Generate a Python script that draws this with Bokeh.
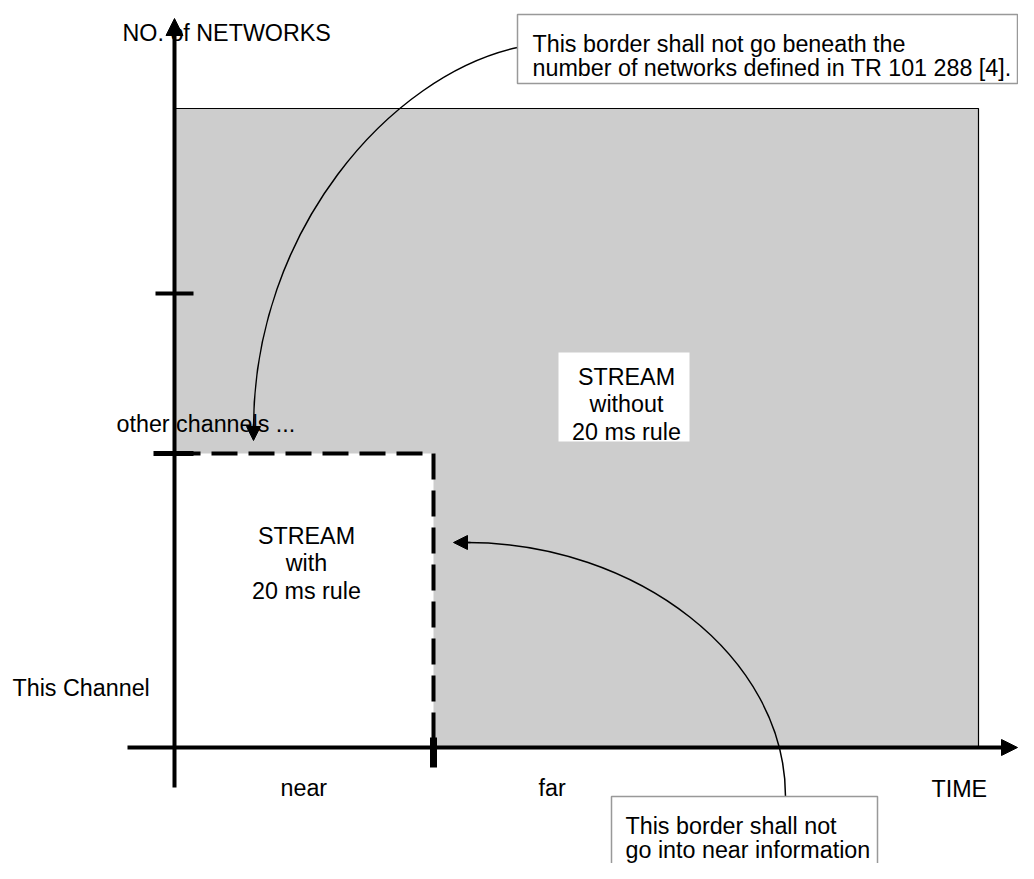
from bokeh.plotting import figure
from bokeh.models import Range1d, Arrow, NormalHead
from bokeh.core.properties import value
from bokeh.embed import file_html
from bokeh.resources import INLINE

# ---- diagram data (picture-pixel units: x to the right, y downward) ----
axis_origin_x = 174          # TIME = 0 / NO. of NETWORKS axis
axis_origin_y = 747          # NO. of NETWORKS = 0 / TIME axis
near_far_boundary = 433      # end of "near" time region
this_channel_top = 453       # top of "this channel" band
network_ticks = [293, 453]   # tick positions on the networks axis
stream_right = 978           # right edge of the STREAM area
stream_top = 108             # top edge of the STREAM area

plain_labels = ["NO. of NETWORKS", "other channels ...", "This Channel", "near", "far", "TIME"]
plain_label_x = [122, 116, 12, 280, 538, 931]
plain_label_y = [32, 423, 687, 787, 787, 788]

with_rule_lines = ["STREAM", "with", "20 ms rule"]
with_rule_x = [306, 306, 306]
with_rule_y = [535, 562, 590]

without_rule_lines = ["STREAM", "without", "20 ms rule"]
without_rule_x = [626, 626, 626]
without_rule_y = [376, 403, 431]

note_top_lines = ["This border shall not go beneath the",
                  "number of networks defined in TR 101 288 [4]."]
note_top_x = [532, 532]
note_top_y = [43, 67]

note_bottom_lines = ["This border shall not", "go into near information"]
note_bottom_x = [625, 625]
note_bottom_y = [825, 849]

FONT = value("Liberation Sans")
FS = "23.3px"
W, H = 1018, 863

p = figure(width=W, height=H, x_range=Range1d(0, W), y_range=Range1d(H, 0),
           x_axis_location=None, y_axis_location=None, toolbar_location=None,
           output_backend="svg", min_border=0)
p.min_border_left = p.min_border_right = p.min_border_top = p.min_border_bottom = 0
p.grid.visible = False
p.outline_line_color = None
p.background_fill_color = "white"
p.border_fill_color = "white"

# STREAM area (grey) and "with 20 ms rule" area (white)
p.quad(left=[axis_origin_x], right=[stream_right], top=[stream_top], bottom=[axis_origin_y],
       fill_color="#cdcdcd", line_color="black", line_width=1.2)
p.quad(left=[axis_origin_x], right=[near_far_boundary], top=[this_channel_top], bottom=[axis_origin_y],
       fill_color="white", line_color=None)
# white label background for "without" text
p.quad(left=[558], right=[689], top=[352], bottom=[441], fill_color="white", line_color=None)

# dashed border of the 20 ms rule area
p.line(x=[axis_origin_x, near_far_boundary, near_far_boundary],
       y=[this_channel_top, this_channel_top, axis_origin_y],
       line_color="black", line_width=4, line_dash="26 11")

# plain labels
p.text(x=plain_label_x, y=plain_label_y, text=plain_labels, text_font=FONT, text_font_size=FS,
       text_baseline="alphabetic", text_align="left", text_color="black")
p.text(x=with_rule_x, y=with_rule_y, text=with_rule_lines, text_font=FONT, text_font_size=FS,
       text_baseline="alphabetic", text_align="center", text_color="black")
p.text(x=without_rule_x, y=without_rule_y, text=without_rule_lines, text_font=FONT, text_font_size=FS,
       text_baseline="alphabetic", text_align="center", text_color="black")

# axes with arrow heads
p.add_layout(Arrow(x_start=axis_origin_x, y_start=787, x_end=axis_origin_x, y_end=18,
                   line_width=4, line_color="black",
                   end=NormalHead(size=17, fill_color="black", line_color="black", line_width=1)))
p.add_layout(Arrow(x_start=127, y_start=axis_origin_y, x_end=W - 1, y_end=axis_origin_y,
                   line_width=4, line_color="black",
                   end=NormalHead(size=16, fill_color="black", line_color="black", line_width=1)))

# ticks
p.segment(x0=[155, 153], y0=network_ticks, x1=[193, 193], y1=network_ticks,
          line_color="black", line_width=[4, 5])
p.segment(x0=[near_far_boundary], y0=[737], x1=[near_far_boundary], y1=[767],
          line_color="black", line_width=7)

# curved leader arrows
p.bezier(x0=[517, 785], y0=[47, 796], x1=[253, 466], y1=[428, 542],
         cx0=[390, 785], cy0=[75, 656], cx1=[253, 636], cy1=[230, 542],
         line_color="black", line_width=1.5)
p.add_layout(Arrow(x_start=253, y_start=424, x_end=253, y_end=440, line_width=1.5, line_color="black",
                   end=NormalHead(size=14, fill_color="black", line_color="black", line_width=1)))
p.add_layout(Arrow(x_start=470, y_start=542, x_end=453, y_end=542, line_width=1.5, line_color="black",
                   end=NormalHead(size=14, fill_color="black", line_color="black", line_width=1)))

# callout boxes
p.quad(left=[517, 611], right=[W - 1, 877], top=[14, 796], bottom=[83, 900],
       fill_color="white", line_color="#999999", line_width=1.5)
p.text(x=note_top_x, y=note_top_y, text=note_top_lines, text_font=FONT, text_font_size=FS,
       text_baseline="alphabetic", text_align="left", text_color="black")
p.text(x=note_bottom_x, y=note_bottom_y, text=note_bottom_lines, text_font=FONT, text_font_size=FS,
       text_baseline="alphabetic", text_align="left", text_color="black")

open("out.html", "w").write(file_html(p, INLINE))
